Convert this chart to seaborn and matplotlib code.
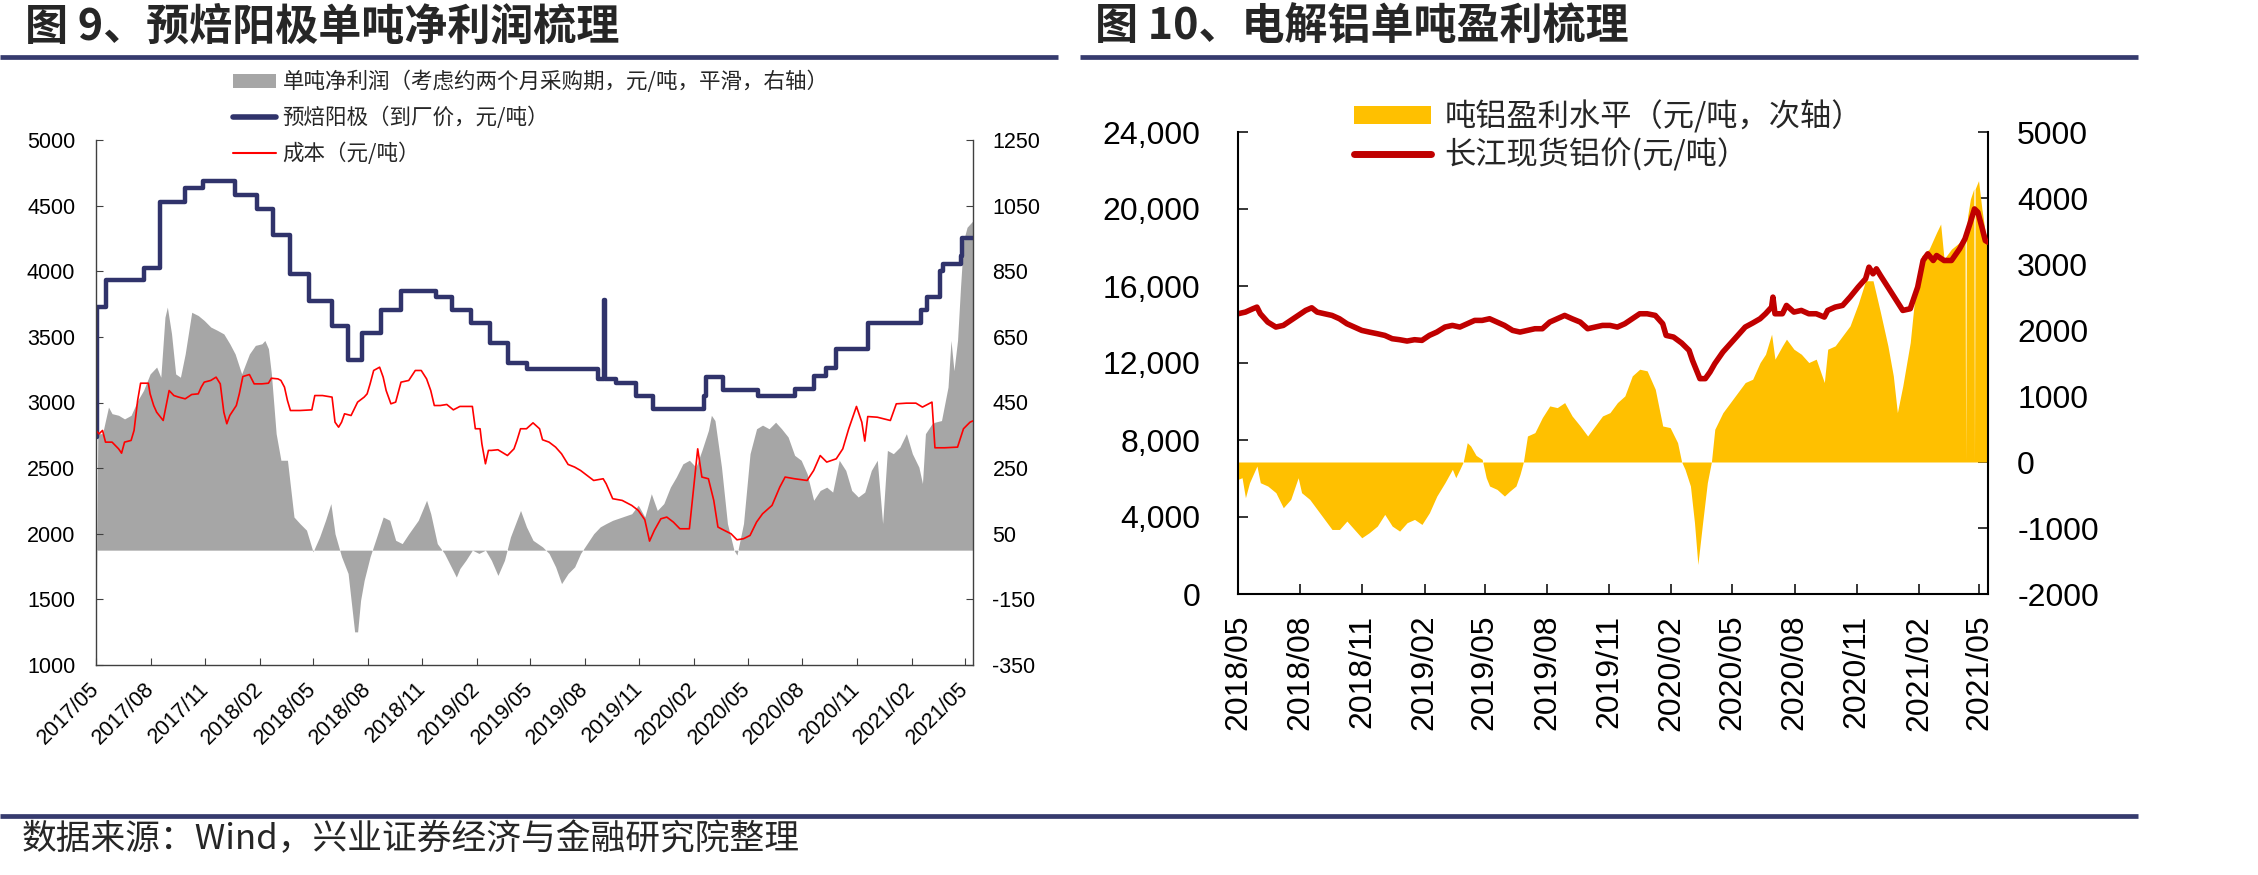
import pandas as pd
import matplotlib
matplotlib.use("Agg")
import matplotlib.pyplot as plt
from matplotlib.lines import Line2D
from matplotlib.patches import Patch
from matplotlib.ticker import FuncFormatter
import seaborn as sns

sns.set_theme(style="white")
plt.rcParams["font.family"] = ["Liberation Sans", "Noto Sans CJK SC", "DejaVu Sans"]
plt.rcParams["axes.unicode_minus"] = False
CJK = ["Noto Sans CJK SC", "DejaVu Sans"]

NAVY = "#30336B"
GRAY = "#A6A6A6"
GOLD = "#FFC000"
LINE = "#363B6E"

# ---- 图9: 预焙阳极 ----
anode_dates = [
    "2017-05-01", "2017-05-02", "2017-05-17", "2017-07-20", "2017-08-16", "2017-09-28", "2017-10-28", "2017-12-21", "2018-01-26", "2018-02-23",
    "2018-03-24", "2018-04-25", "2018-06-02", "2018-06-29", "2018-07-22", "2018-08-24", "2018-09-26", "2018-11-23", "2018-12-21", "2019-01-21",
    "2019-02-23", "2019-03-25", "2019-04-26", "2019-08-23", "2019-09-02", "2019-09-04", "2019-09-23", "2019-10-27", "2019-11-23", "2020-02-18",
    "2020-02-21", "2020-03-21", "2020-05-19", "2020-07-19", "2020-08-20", "2020-09-09", "2020-09-27", "2020-11-19", "2021-02-16", "2021-02-27",
    "2021-03-20", "2021-03-26", "2021-04-24", "2021-04-27", "2021-05-15"]
anode_price = [
    2740, 3725, 3930, 4023, 4525, 4635, 4685, 4580, 4475, 4277,
    3980, 3777, 3580, 3325, 3530, 3705, 3853, 3802, 3705, 3604,
    3452, 3302, 3256, 3180, 3782, 3180, 3147, 3053, 2947, 3053,
    3198, 3096, 3048, 3100, 3200, 3261, 3408, 3604, 3705, 3802,
    4000, 4056, 4119, 4254, 4254]

cost_dates = [
    "2017-05-01", "2017-05-06", "2017-05-12", "2017-05-17", "2017-05-28", "2017-06-08", "2017-06-13", "2017-06-18", "2017-06-29", "2017-07-04",
    "2017-07-10", "2017-07-15", "2017-07-28", "2017-07-31", "2017-08-06", "2017-08-11", "2017-08-22", "2017-08-27", "2017-09-01", "2017-09-09",
    "2017-09-17", "2017-09-28", "2017-10-09", "2017-10-20", "2017-10-25", "2017-10-30", "2017-11-10", "2017-11-19", "2017-11-26", "2017-12-02",
    "2017-12-07", "2017-12-12", "2017-12-23", "2017-12-28", "2018-01-03", "2018-01-14", "2018-01-22", "2018-02-04", "2018-02-15", "2018-02-20",
    "2018-03-03", "2018-03-08", "2018-03-14", "2018-03-19", "2018-03-24", "2018-04-09", "2018-04-29", "2018-05-04", "2018-05-17", "2018-06-02",
    "2018-06-07", "2018-06-13", "2018-06-18", "2018-06-23", "2018-07-04", "2018-07-15", "2018-07-26", "2018-07-31", "2018-08-05", "2018-08-11",
    "2018-08-21", "2018-08-27", "2018-09-01", "2018-09-09", "2018-09-17", "2018-09-26", "2018-10-09", "2018-10-20", "2018-10-30", "2018-11-08",
    "2018-11-15", "2018-11-21", "2018-12-01", "2018-12-12", "2018-12-23", "2019-01-03", "2019-01-24", "2019-01-29", "2019-02-06", "2019-02-09",
    "2019-02-15", "2019-02-20", "2019-02-25", "2019-03-08", "2019-03-24", "2019-04-04", "2019-04-09", "2019-04-15", "2019-04-25", "2019-05-06",
    "2019-05-17", "2019-05-22", "2019-06-02", "2019-06-13", "2019-06-23", "2019-07-04", "2019-07-15", "2019-07-25", "2019-08-05", "2019-08-16",
    "2019-09-01", "2019-09-06", "2019-09-17", "2019-10-03", "2019-10-19", "2019-10-30", "2019-11-10", "2019-11-18", "2019-11-26", "2019-12-07",
    "2019-12-17", "2019-12-28", "2020-01-08", "2020-01-24", "2020-01-29", "2020-02-07", "2020-02-14", "2020-02-25", "2020-03-05", "2020-03-12",
    "2020-03-23", "2020-04-03", "2020-04-13", "2020-04-24", "2020-05-05", "2020-05-16", "2020-05-26", "2020-06-11", "2020-06-24", "2020-07-03",
    "2020-07-19", "2020-08-09", "2020-08-20", "2020-08-31", "2020-09-11", "2020-09-27", "2020-10-08", "2020-10-18", "2020-10-31", "2020-11-09",
    "2020-11-14", "2020-11-19", "2020-12-05", "2020-12-27", "2021-01-06", "2021-01-23", "2021-02-08", "2021-02-19", "2021-03-07", "2021-03-12",
    "2021-03-28", "2021-04-19", "2021-04-29", "2021-05-10", "2021-05-15"]
cost_vals = [
    2787, 2761, 2787, 2698, 2698, 2647, 2614, 2698, 2711, 2787,
    3015, 3147, 3147, 3066, 2977, 2926, 2863, 2977, 3091, 3053,
    3041, 3028, 3061, 3066, 3117, 3155, 3168, 3193, 3142, 2926,
    2838, 2901, 2977, 3066, 3198, 3213, 3142, 3142, 3147, 3185,
    3180, 3168, 3117, 3015, 2939, 2939, 2944, 3053, 3053, 3041,
    2850, 2812, 2850, 2914, 2901, 3003, 3041, 3066, 3142, 3244,
    3269, 3193, 3091, 2990, 3003, 3155, 3168, 3244, 3244, 3180,
    3091, 2977, 2977, 2985, 2944, 2970, 2970, 2800, 2800, 2685,
    2533, 2635, 2635, 2640, 2596, 2647, 2711, 2800, 2800, 2845,
    2800, 2716, 2698, 2660, 2609, 2528, 2508, 2482, 2444, 2406,
    2419, 2381, 2267, 2254, 2216, 2178, 2107, 1944, 2025, 2114,
    2127, 2089, 2038, 2038, 2254, 2647, 2432, 2419, 2254, 2051,
    2025, 2000, 1954, 1962, 1987, 2089, 2152, 2216, 2355, 2432,
    2419, 2406, 2482, 2596, 2546, 2571, 2647, 2800, 2970, 2850,
    2706, 2893, 2888, 2863, 2990, 2995, 2995, 2965, 3003, 2655,
    2655, 2660, 2800, 2850, 2860]

profit_dates = [
    "2017-05-01", "2017-05-04", "2017-05-12", "2017-05-22", "2017-05-28", "2017-06-08", "2017-06-18", "2017-06-29", "2017-07-10", "2017-07-20",
    "2017-07-31", "2017-08-11", "2017-08-18", "2017-08-25", "2017-08-29", "2017-09-05", "2017-09-12", "2017-09-20", "2017-09-28", "2017-10-09",
    "2017-10-20", "2017-10-30", "2017-11-10", "2017-11-21", "2017-12-02", "2017-12-12", "2017-12-21", "2018-01-01", "2018-01-14", "2018-01-24",
    "2018-02-04", "2018-02-09", "2018-02-15", "2018-02-20", "2018-02-28", "2018-03-08", "2018-03-19", "2018-03-30", "2018-04-09", "2018-04-20",
    "2018-05-01", "2018-05-12", "2018-05-22", "2018-05-31", "2018-06-07", "2018-06-18", "2018-06-29", "2018-07-10", "2018-07-15", "2018-07-20",
    "2018-07-26", "2018-08-05", "2018-08-16", "2018-08-27", "2018-09-07", "2018-09-17", "2018-09-28", "2018-10-09", "2018-10-25", "2018-11-08",
    "2018-11-15", "2018-11-26", "2018-12-08", "2018-12-18", "2018-12-28", "2019-01-03", "2019-01-13", "2019-01-24", "2019-02-04", "2019-02-15",
    "2019-02-25", "2019-03-08", "2019-03-19", "2019-03-29", "2019-04-15", "2019-04-25", "2019-05-06", "2019-05-22", "2019-06-02", "2019-06-13",
    "2019-06-23", "2019-07-04", "2019-07-15", "2019-07-25", "2019-08-05", "2019-08-16", "2019-08-27", "2019-09-06", "2019-09-17", "2019-10-03",
    "2019-10-19", "2019-10-30", "2019-11-10", "2019-11-21", "2019-12-01", "2019-12-12", "2019-12-23", "2020-01-02", "2020-01-13", "2020-01-24",
    "2020-02-04", "2020-02-14", "2020-02-25", "2020-03-01", "2020-03-07", "2020-03-18", "2020-03-28", "2020-04-08", "2020-04-13", "2020-04-24",
    "2020-05-05", "2020-05-16", "2020-05-26", "2020-06-06", "2020-06-17", "2020-06-27", "2020-07-08", "2020-07-19", "2020-07-30", "2020-08-09",
    "2020-08-20", "2020-08-31", "2020-09-11", "2020-09-21", "2020-10-02", "2020-10-13", "2020-10-23", "2020-11-03", "2020-11-14", "2020-11-25",
    "2020-12-05", "2020-12-14", "2020-12-22", "2021-01-01", "2021-01-12", "2021-01-23", "2021-02-02", "2021-02-13", "2021-02-19", "2021-02-24",
    "2021-03-07", "2021-03-12", "2021-03-23", "2021-04-03", "2021-04-08", "2021-04-13", "2021-04-19", "2021-04-24", "2021-04-29", "2021-05-05",
    "2021-05-10", "2021-05-15"]
profit_vals = [
    -250, 355, 355, 436, 416, 411, 400, 411, 456, 487,
    537, 558, 527, 710, 741, 660, 537, 527, 598, 725,
    715, 700, 680, 670, 659, 629, 598, 537, 598, 624,
    629, 639, 614, 537, 355, 274, 274, 101, 81, 61,
    -5, 40, 91, 142, 50, -20, -71, -249, -249, -153,
    -92, -20, 40, 101, 91, 30, 20, 50, 91, 152,
    111, 20, -10, -46, -82, -56, -31, 0, -10, 0,
    -31, -77, -31, 40, 121, 71, 30, 10, -10, -51,
    -102, -71, -51, -10, 20, 50, 71, 81, 91, 101,
    111, 137, 101, 172, 121, 142, 192, 223, 263, 274,
    253, 304, 365, 411, 395, 253, 81, 0, -15, 81,
    294, 370, 381, 370, 390, 370, 345, 289, 274, 233,
    152, 182, 192, 177, 274, 243, 182, 162, 177, 243,
    274, 81, 304, 294, 314, 355, 294, 253, 203, 355,
    385, 390, 395, 497, 639, 547, 639, 801, 943, 984,
    994, 1004]

ticks9 = ["2017/05", "2017/08", "2017/11", "2018/02", "2018/05", "2018/08", "2018/11", "2019/02", "2019/05",
          "2019/08", "2019/11", "2020/02", "2020/05", "2020/08", "2020/11", "2021/02", "2021/05"]

# ---- 图10: 电解铝 ----
alu_dates = [
    "2018-05-01", "2018-05-12", "2018-05-23", "2018-05-29", "2018-06-03", "2018-06-14", "2018-06-26", "2018-07-07", "2018-07-18", "2018-07-29",
    "2018-08-09", "2018-08-18", "2018-08-26", "2018-09-06", "2018-09-17", "2018-09-28", "2018-10-09", "2018-10-20", "2018-10-31", "2018-11-11",
    "2018-11-23", "2018-12-04", "2018-12-15", "2018-12-26", "2019-01-06", "2019-01-17", "2019-01-28", "2019-02-08", "2019-02-19", "2019-03-03",
    "2019-03-14", "2019-03-25", "2019-04-05", "2019-04-16", "2019-04-27", "2019-05-08", "2019-05-19", "2019-05-30", "2019-06-11", "2019-06-22",
    "2019-07-03", "2019-07-14", "2019-07-25", "2019-08-05", "2019-08-16", "2019-08-27", "2019-09-07", "2019-09-19", "2019-09-30", "2019-10-11",
    "2019-10-22", "2019-11-02", "2019-11-13", "2019-11-24", "2019-12-05", "2019-12-16", "2019-12-27", "2020-01-08", "2020-01-19", "2020-01-24",
    "2020-02-04", "2020-02-16", "2020-02-27", "2020-03-03", "2020-03-09", "2020-03-14", "2020-03-22", "2020-03-29", "2020-04-05", "2020-04-17",
    "2020-04-28", "2020-05-09", "2020-05-20", "2020-05-31", "2020-06-11", "2020-06-19", "2020-06-28", "2020-06-30", "2020-07-03", "2020-07-14",
    "2020-07-20", "2020-07-31", "2020-08-11", "2020-08-22", "2020-09-02", "2020-09-14", "2020-09-19", "2020-09-30", "2020-10-11", "2020-10-22",
    "2020-11-03", "2020-11-14", "2020-11-19", "2020-11-25", "2020-11-30", "2020-12-06", "2020-12-17", "2020-12-28", "2021-01-08", "2021-01-19",
    "2021-01-30", "2021-02-07", "2021-02-14", "2021-02-22", "2021-02-27", "2021-03-10", "2021-03-21", "2021-04-02", "2021-04-10", "2021-04-18",
    "2021-04-24", "2021-04-29", "2021-05-05", "2021-05-10", "2021-05-14"]
alu_price = [
    14558, 14645, 14818, 14904, 14558, 14126, 13867, 13953, 14213, 14472,
    14731, 14869, 14645, 14558, 14472, 14299, 14040, 13867, 13694, 13607,
    13521, 13434, 13262, 13210, 13140, 13210, 13175, 13434, 13607, 13867,
    13953, 13867, 14040, 14213, 14213, 14299, 14126, 13953, 13694, 13607,
    13694, 13780, 13780, 14126, 14299, 14472, 14299, 14126, 13780, 13867,
    13953, 13953, 13867, 14040, 14299, 14558, 14558, 14472, 14040, 13434,
    13348, 13037, 12657, 12138, 11619, 11187, 11187, 11533, 11965, 12570,
    13002, 13434, 13867, 14075, 14299, 14558, 14904, 15423, 14558, 14558,
    14991, 14645, 14731, 14558, 14558, 14386, 14731, 14904, 14991, 15423,
    15942, 16374, 16979, 16633, 16892, 16546, 15942, 15337, 14731, 14818,
    15942, 17325, 17671, 17325, 17584, 17325, 17325, 17930, 18449, 19314,
    20005, 19832, 19054, 18362, 18276]

margin_dates = [
    "2018-05-01", "2018-05-07", "2018-05-12", "2018-05-18", "2018-05-29", "2018-06-03", "2018-06-14", "2018-06-26", "2018-07-07", "2018-07-18",
    "2018-07-29", "2018-08-03", "2018-08-15", "2018-08-26", "2018-09-06", "2018-09-17", "2018-09-28", "2018-10-09", "2018-10-20", "2018-10-31",
    "2018-11-11", "2018-11-23", "2018-12-04", "2018-12-15", "2018-12-26", "2019-01-06", "2019-01-17", "2019-01-28", "2019-02-08", "2019-02-19",
    "2019-03-03", "2019-03-14", "2019-03-19", "2019-03-25", "2019-03-30", "2019-04-05", "2019-04-10", "2019-04-18", "2019-04-27", "2019-05-03",
    "2019-05-08", "2019-05-19", "2019-05-30", "2019-06-07", "2019-06-16", "2019-06-22", "2019-06-27", "2019-07-03", "2019-07-14", "2019-07-25",
    "2019-08-05", "2019-08-16", "2019-08-27", "2019-09-07", "2019-09-19", "2019-09-30", "2019-10-11", "2019-10-22", "2019-11-02", "2019-11-13",
    "2019-11-24", "2019-12-05", "2019-12-16", "2019-12-27", "2020-01-08", "2020-01-19", "2020-01-30", "2020-02-10", "2020-02-16", "2020-02-21",
    "2020-02-29", "2020-03-06", "2020-03-11", "2020-03-18", "2020-03-25", "2020-03-31", "2020-04-05", "2020-04-17", "2020-04-28", "2020-05-09",
    "2020-05-20", "2020-05-31", "2020-06-11", "2020-06-19", "2020-06-28", "2020-07-03", "2020-07-14", "2020-07-20", "2020-07-31", "2020-08-11",
    "2020-08-22", "2020-09-02", "2020-09-14", "2020-09-19", "2020-09-30", "2020-10-11", "2020-10-22", "2020-11-03", "2020-11-14", "2020-11-25",
    "2020-12-06", "2020-12-17", "2020-12-25", "2020-12-31", "2021-01-08", "2021-01-19", "2021-01-27", "2021-02-05", "2021-02-16", "2021-02-27",
    "2021-03-05", "2021-03-10", "2021-03-21", "2021-04-02", "2021-04-10", "2021-04-11", "2021-04-12", "2021-04-14", "2021-04-18", "2021-04-23",
    "2021-04-24", "2021-04-25", "2021-04-30", "2021-05-05", "2021-05-10", "2021-05-14"]
margin_vals = [
    -263, -238, -541, -314, -61, -314, -364, -465, -693, -566,
    -238, -465, -566, -718, -870, -1022, -1022, -895, -1022, -1148,
    -1072, -971, -794, -971, -1047, -920, -870, -946, -769, -516,
    -314, -111, -238, -111, 0, 293, 243, 101, 40, -238,
    -364, -415, -516, -440, -364, -187, 0, 394, 445, 673,
    850, 824, 900, 698, 546, 394, 546, 698, 748, 900,
    1001, 1305, 1406, 1381, 1102, 546, 521, 293, 0, -111,
    -364, -920, -1553, -920, -314, 0, 496, 748, 900, 1052,
    1204, 1254, 1507, 1633, 1937, 1558, 1760, 1861, 1709, 1633,
    1507, 1558, 1204, 1709, 1760, 1912, 2063, 2392, 2746, 2746,
    2266, 1760, 1305, 748, 1153, 1810, 2620, 3125, 3226, 3479,
    3606, 3075, 3226, 3327, 3400, 0, 3500, 3732, 3985, 4137,
    0, 4137, 4263, 3833, 3479, 3378]

ticks10 = ["2018/05", "2018/08", "2018/11", "2019/02", "2019/05", "2019/08", "2019/11",
           "2020/02", "2020/05", "2020/08", "2020/11", "2021/02", "2021/05"]

W, H = 2258, 875


def fx(px):
    return px / W


def fy(py):
    return 1 - py / H


fig = plt.figure(figsize=(W / 100, H / 100), dpi=100, facecolor="white")

# ---------- left chart ----------
ax1 = fig.add_axes([fx(96), fy(665), fx(973) - fx(96), fy(140) - fy(665)])
ax1r = ax1.twinx()
ax1r.fill_between(pd.to_datetime(profit_dates), 0, profit_vals, color=GRAY, lw=0)
sns.lineplot(x=pd.to_datetime(anode_dates), y=anode_price, ax=ax1, color=NAVY, lw=3.2,
             drawstyle="steps-post")
sns.lineplot(x=pd.to_datetime(cost_dates), y=cost_vals, ax=ax1, color="#FF0000", lw=1.2)
ax1.set_zorder(ax1r.get_zorder() + 1)
ax1.patch.set_visible(False)

ax1.set_xlim(pd.Timestamp("2017-05-01"), pd.Timestamp("2021-05-15"))
ax1.set_ylim(1000, 5000)
ax1.set_yticks(range(1000, 5001, 500))
ax1r.set_ylim(-350, 1250)
ax1r.set_yticks(range(-350, 1251, 200))
t9 = pd.to_datetime(ticks9, format="%Y/%m")
ax1.set_xticks(t9)
ax1.set_xticklabels(ticks9, rotation=45, ha="right", va="center", rotation_mode="anchor")
ax1.set_xlabel("")
ax1.set_ylabel("")

for a in (ax1, ax1r):
    a.spines["top"].set_visible(False)
    a.grid(False)
ax1.spines["right"].set_visible(False)
ax1r.spines["left"].set_visible(False)
ax1r.spines["bottom"].set_visible(False)
for s in ("left", "bottom"):
    ax1.spines[s].set(color="#404040", lw=1)
ax1r.spines["right"].set(color="#404040", lw=1)
ax1.tick_params(axis="x", direction="in", length=5, width=0.8, bottom=True, color="#404040",
                labelsize=15.5, pad=15, labelcolor="black")
ax1.tick_params(axis="y", direction="in", length=5, width=0.8, left=True, color="#404040",
                labelsize=15.5, pad=15, labelcolor="black")
ax1r.tick_params(axis="y", direction="in", length=5, width=0.8, right=True, color="#404040",
                 labelsize=15.5, pad=14, labelcolor="black")

leg1 = ax1.legend(
    handles=[Patch(facecolor=GRAY, edgecolor="none"),
             Line2D([], [], color=NAVY, lw=4),
             Line2D([], [], color="#FF0000", lw=1.5)],
    labels=["单吨净利润（考虑约两个月采购期，元/吨，平滑，右轴）",
            "预焙阳极（到厂价，元/吨）",
            "成本（元/吨）"],
    loc="upper left", bbox_to_anchor=(fx(233), fy(71)), bbox_transform=fig.transFigure,
    frameon=False, prop={"family": CJK, "size": 15.5}, handlelength=2.0, handleheight=0.6,
    handletextpad=0.3, labelspacing=0.62, borderpad=0, borderaxespad=0)

# ---------- right chart ----------
ax2 = fig.add_axes([fx(1238), fy(594), fx(1988) - fx(1238), fy(132) - fy(594)])
ax2r = ax2.twinx()
ax2r.fill_between(pd.to_datetime(margin_dates), 0, margin_vals, color=GOLD, lw=0)
sns.lineplot(x=pd.to_datetime(alu_dates), y=alu_price, ax=ax2, color="#C00000", lw=4)
ax2.set_zorder(ax2r.get_zorder() + 1)
ax2.patch.set_visible(False)

ax2.set_xlim(pd.Timestamp("2018-05-01"), pd.Timestamp("2021-05-14"))
ax2.set_ylim(0, 24000)
ax2.set_yticks(range(0, 24001, 4000))
ax2.yaxis.set_major_formatter(FuncFormatter(lambda v, p: f"{int(v):,}"))
ax2r.set_ylim(-2000, 5000)
ax2r.set_yticks(range(-2000, 5001, 1000))
t10 = pd.to_datetime(ticks10, format="%Y/%m")
ax2.set_xticks(t10)
ax2.set_xticklabels(ticks10, rotation=90, ha="center", va="top")
ax2.set_xlabel("")
ax2.set_ylabel("")

for a in (ax2, ax2r):
    a.spines["top"].set_visible(False)
    a.grid(False)
ax2.spines["right"].set_visible(False)
ax2r.spines["left"].set_visible(False)
ax2r.spines["bottom"].set_visible(False)
for s in ("left", "bottom"):
    ax2.spines[s].set(color="black", lw=1.5)
ax2r.spines["right"].set(color="black", lw=1.5)
ax2.tick_params(axis="x", direction="in", length=7, width=1.1, bottom=True, color="black",
                labelsize=23, pad=15, labelcolor="black")
ax2.tick_params(axis="y", direction="in", length=7, width=1.1, left=True, color="black",
                labelsize=23, pad=27, labelcolor="black")
ax2r.tick_params(axis="y", direction="in", length=7, width=1.1, right=True, color="black",
                 labelsize=23, pad=21, labelcolor="black")

leg2 = ax2.legend(
    handles=[Patch(facecolor=GOLD, edgecolor="none"),
             Line2D([], [], color="#C00000", lw=5)],
    labels=["吨铝盈利水平（元/吨，次轴）", "长江现货铝价(元/吨）"],
    loc="upper left", bbox_to_anchor=(fx(1354), fy(100)), bbox_transform=fig.transFigure,
    frameon=False, prop={"family": CJK, "size": 22.5}, handlelength=2.45, handleheight=0.5,
    handletextpad=0.45, labelspacing=0.15, borderpad=0, borderaxespad=0)

# ---------- titles, rules, source ----------
fig.text(fx(25), fy(27), "图 9、预焙阳极单吨净利润梳理", family=CJK, fontsize=31,
         fontweight="bold", ha="left", va="center")
fig.text(fx(1095), fy(27), "图 10、电解铝单吨盈利梳理", family=CJK, fontsize=31,
         fontweight="bold", ha="left", va="center")
for x0, x1, yy in ((0, 1058, 57), (1080, 2138, 57), (0, 2138, 816)):
    fig.add_artist(Line2D([fx(x0), fx(x1)], [fy(yy), fy(yy)], transform=fig.transFigure,
                          color=LINE, lw=3.4, solid_capstyle="butt"))
fig.text(fx(22), fy(840), "数据来源：Wind，兴业证券经济与金融研究院整理", family=CJK,
         fontsize=25, ha="left", va="center")

fig.savefig("out.png", dpi=100, facecolor="white")
